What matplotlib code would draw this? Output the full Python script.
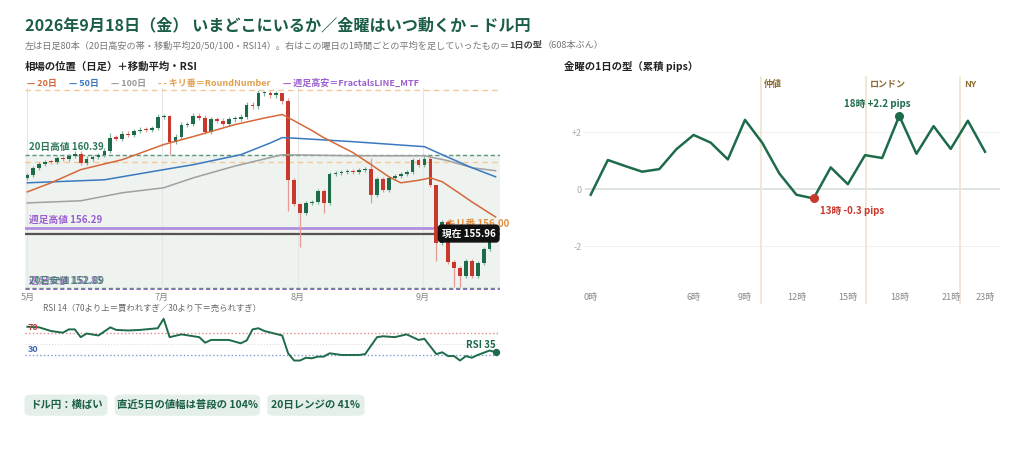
import numpy as np
import matplotlib.pyplot as plt
from matplotlib.patches import FancyBboxPatch

plt.rcParams['font.family'] = ['Noto Sans CJK JP', 'DejaVu Sans']

# ---- data: daily closes (80 bars)
closes = [159.26, 159.66, 159.88, 159.99, 159.96, 160.22, 160.17, 160.33, 160.45, 159.94,
          160.17, 160.28, 160.39, 160.62, 161.35, 161.30, 161.58, 161.52, 161.74, 161.80,
          161.78, 161.91, 162.53, 162.55, 161.12, 161.41, 162.08, 162.10, 162.59, 162.48,
          161.69, 162.37, 162.31, 162.14, 162.37, 162.42, 162.53, 163.21, 163.10, 163.83,
          163.85, 163.72, 163.83, 163.38, 158.98, 157.63, 157.12, 157.68, 157.74, 158.36,
          157.68, 159.32, 159.38, 159.43, 159.49, 159.43, 159.55, 159.60, 158.14, 159.04,
          158.42, 159.09, 159.21, 159.32, 159.43, 160.11, 159.83, 160.17, 158.70, 155.43,
          156.61, 154.36, 154.02, 153.57, 154.41, 153.57, 154.30, 155.09, 155.60, 155.96]
first_open = 159.10
wick_high = {14: 161.6, 24: 162.6, 39: 164.0, 43: 163.5, 44: 163.6, 46: 157.7, 58: 160.2, 68: 160.3, 69: 158.2}
wick_low = {24: 160.4, 44: 157.2, 46: 155.2, 50: 157.1, 58: 157.7, 69: 154.4, 72: 152.95, 73: 152.95}

ma20_idx = [0, 4, 9, 16, 23, 28, 35, 40, 43, 45, 48, 50, 55, 58, 61, 63, 66, 68, 70, 73, 75, 79]
ma20_val = [158.30, 158.81, 159.55, 160.11, 160.96, 161.41, 162.08, 162.45, 162.65, 162.30, 161.75,
            161.35, 160.50, 159.83, 159.15, 158.81, 158.95, 159.09, 158.87, 158.20, 157.74, 156.89]
ma50_idx = [0, 13, 23, 28, 36, 41, 43, 45, 55, 67, 70, 73, 75, 79]
ma50_val = [158.81, 158.98, 159.55, 159.83, 160.39, 161.05, 161.35, 161.32, 161.12, 160.84,
            160.39, 159.95, 159.66, 159.15]
ma100_idx = [0, 9, 16, 23, 28, 35, 43, 55, 67, 71, 75, 79]
ma100_val = [157.68, 157.80, 158.25, 158.53, 159.09, 159.75, 160.39, 160.33, 160.33, 160.05, 159.66, 159.49]

rsi_idx = [0, 2, 4, 6, 7, 8, 9, 10, 12, 14, 15, 17, 19, 20, 22, 23, 24, 26, 29, 30, 31, 34, 36, 37,
           38, 39, 40, 43, 44, 45, 46, 47, 48, 49, 50, 51, 53, 56, 57, 59, 60, 62, 64, 66, 67,
           69, 70, 71, 72, 73, 74, 75, 76, 78, 79]
rsi_val = [80.7, 79.6, 73, 70, 76, 76, 62, 68.5, 65, 79.6, 75, 74, 75, 76, 78, 95, 62, 67, 62, 52,
           57, 57, 51, 56, 76, 78, 73, 65, 33, 20, 20, 25, 24, 27, 27, 33, 30, 30, 31.6, 62, 63.6,
           62, 67, 57, 59, 31.6, 34.8, 28, 28, 20, 28, 25, 30, 38, 35]

high20, low20 = 160.39, 152.89
week_high, week_low = 156.29, 152.85
kiri = [164.0, 160.0, 156.0]
month_idx = [0, 22.7, 45.6, 66.7]
month_lbl = ['5月', '7月', '8月', '9月']

hours = list(range(24))
cum_pips = [-0.2, 1.02, 0.81, 0.61, 0.7, 1.4, 1.9, 1.63, 1.04, 2.43, 1.63, 0.55,
            -0.2, -0.33, 0.76, 0.17, 1.19, 1.09, 2.57, 1.24, 2.21, 1.41, 2.4, 1.31]
hour_ticks = [0, 6, 9, 12, 15, 18, 21, 23]
sessions = [(9.92, '仲値'), (16.06, 'ロンドン'), (21.56, 'NY')]

GREEN = '#1e6b4a'
RED = '#c8382c'
DARK = '#1b5e45'

fig = plt.figure(figsize=(10.24, 4.62), dpi=100)
fig.text(0.024, 0.945, '2026年9月18日（金） いまどこにいるか／金曜はいつ動くか – ドル円',
         fontsize=11.6, fontweight='bold', color=DARK, va='center')

renderer = fig.canvas.get_renderer()


def chain(pieces, x, y, fs):
    # lay text pieces side by side
    for t, w, c in pieces:
        tx = fig.text(x, y, t, fontsize=fs, color=c, fontweight=w, va='center')
        x += tx.get_window_extent(renderer).width / fig.bbox.width + 0.008 * (fs < 6.6 + 0.5 and w == 'legend')


chain([('左は日足80本（20日高安の帯・移動平均20/50/100・RSI14）。右はこの曜日の1時間ごとの平均を足していったもの＝', 'normal', '#777777'),
       ('1日の型', 'bold', '#444444'), ('（608本ぶん）', 'normal', '#777777')], 0.024, 0.902, 6.6)

fig.text(0.024, 0.855, '相場の位置（日足）＋移動平均・RSI', fontsize=7.5, fontweight='bold', color='#222222', va='center')
fig.text(0.551, 0.855, '金曜の1日の型（累積 pips）', fontsize=7.5, fontweight='bold', color='#222222', va='center')

# legend line
leg = [('— 20日', '#d4683a'), ('— 50日', '#3a78c0'), ('— 100日', '#999999'),
       ('- - キリ番＝RoundNumber', '#e0a050'), ('— 週足高安＝FractalsLINE_MTF', '#9b5fd0')]
lx = 0.026
for t, c in leg:
    tx = fig.text(lx, 0.82, t, fontsize=6.5, color=c, fontweight='bold', va='center')
    lx += tx.get_window_extent(renderer).width / fig.bbox.width + 0.012

# ---- price axes
ax = fig.add_axes([0.0244, 0.372, 0.4636, 0.438])
n = len(closes)
ax.axhspan(low20, high20, color='#eef3f0', zorder=0)
for k in kiri:
    ax.axhline(k, color='#f2c99a', ls=(0, (4, 3)), lw=1, zorder=1)
for m in month_idx:
    ax.axvline(m, color='#e6e6e6', lw=0.8, zorder=0)
ax.axhline(high20, color='#5a9a78', ls=(0, (3, 2)), lw=1, zorder=1)
ax.axhline(low20, color='#5a9a78', ls=(0, (3, 2)), lw=1, zorder=1)
ax.axhline(week_low, color='#9b5fd0', ls=(0, (3, 2)), lw=1, zorder=1)
ax.axhline(week_high, color='#b08ee0', lw=2, zorder=1)
ax.axhline(closes[-1], color='#555555', lw=1.6, zorder=1)

opens = [first_open] + closes[:-1]
for i in range(n):
    o, c = opens[i], closes[i]
    col = GREEN if c >= o else RED
    hi = wick_high.get(i, max(o, c) + 0.12)
    lo = wick_low.get(i, min(o, c) - 0.12)
    wcol = '#7fb39a' if c >= o else '#e59a94'
    ax.vlines(i, lo, hi, color=wcol, lw=0.9, zorder=2)
    ax.bar(i, max(abs(c - o), 0.06), bottom=min(o, c), width=0.62, color=col, zorder=3)

ax.plot(ma100_idx, ma100_val, color='#a0a0a0', lw=1.1, zorder=4)
ax.plot(ma50_idx, ma50_val, color='#3a78c0', lw=1.1, zorder=4)
ax.plot(ma20_idx, ma20_val, color='#d4683a', lw=1.1, zorder=4)

ax.text(0.2, high20 + 0.15, '20日高値 160.39', fontsize=7, color='#2e7a58', fontweight='bold', va='bottom')
ax.text(0.2, week_high + 0.15, '週足高値 156.29', fontsize=7, color='#9b5fd0', fontweight='bold', va='bottom')
ax.text(0.2, low20 + 0.12, '週足安値 152.85', fontsize=7, color='#9b5fd0', fontweight='bold', va='bottom', alpha=0.8)
ax.text(0.2, low20 + 0.12, '20日安値 152.89', fontsize=7, color='#2e7a58', fontweight='bold', va='bottom', alpha=0.8)
ax.text(70.6, 156.2, 'キリ番 156.00', fontsize=7, color='#e09040', fontweight='bold', va='bottom', zorder=5)
ax.text(79, closes[-1], '現在 155.96', fontsize=7, color='white', fontweight='bold', ha='right', va='center',
        bbox=dict(boxstyle='round,pad=0.35', fc='#111111', ec='#111111'), zorder=6)

ax.set_xlim(-0.4, n - 0.3)
ax.set_ylim(152.78, 164.15)
ax.set_xticks(month_idx)
ax.set_xticklabels(month_lbl, fontsize=6.5, color='#888888')
ax.tick_params(axis='x', length=0, pad=2)
ax.set_yticks([])
for s in ax.spines.values():
    s.set_visible(False)

# ---- RSI
fig.text(0.042, 0.333, 'RSI 14（70より上＝買われすぎ／30より下＝売られすぎ）', fontsize=6, color='#666666', va='center')
ar = fig.add_axes([0.0244, 0.21, 0.4636, 0.106])
ar.axhline(70, color='#e08a8a', ls=':', lw=1)
ar.axhline(50, color='#dddddd', ls=':', lw=0.8)
ar.axhline(30, color='#7a9ad0', ls=':', lw=1)
ar.plot(rsi_idx, rsi_val, color=GREEN, lw=1.4)
ar.scatter([rsi_idx[-1]], [rsi_val[-1]], color=GREEN, s=18, zorder=5)
ar.text(0.0, 72, '70', fontsize=6.5, color='#c04040', fontweight='bold', va='bottom')
ar.text(0.0, 32, '30', fontsize=6.5, color='#3a6ab0', fontweight='bold', va='bottom')
ar.text(79, 39, 'RSI 35', fontsize=7, color=GREEN, fontweight='bold', ha='right', va='bottom')
ar.set_xlim(-0.4, n - 0.3)
ar.set_ylim(12, 100)
ar.axis('off')

# ---- badges
badges = [('ドル円：横ばい', 0.024, 0.081), ('直近5日の値幅は普段の 104%', 0.112, 0.142),
          ('20日レンジの 41%', 0.261, 0.095)]
for t, xx, w in badges:
    fig.patches.append(FancyBboxPatch((xx, 0.1), w, 0.046, boxstyle='round,pad=0,rounding_size=0.008',
                                      transform=fig.transFigure, fc='#e3efe8', ec='none'))
    fig.text(xx + w / 2, 0.123, t, fontsize=7.5, color=DARK, fontweight='bold', ha='center', va='center')

# ---- right: cumulative pips by hour
ax2 = fig.add_axes([0.571, 0.372, 0.406, 0.461])
for v in [-2, 2]:
    ax2.axhline(v, color='#f0f0f0', lw=0.8, zorder=0)
ax2.axhline(0, color='#d5e0da', lw=1.2, zorder=0)
for h, lbl in sessions:
    ax2.axvline(h, color='#efe4cc', lw=1.2, zorder=0, ymin=-0.06, clip_on=False)
    ax2.text(h + 0.2, 3.68, lbl, fontsize=6.5, color='#8a6a30', fontweight='bold', va='center')
ax2.plot(hours, cum_pips, color=GREEN, lw=1.8, zorder=3)
ax2.scatter([18], [cum_pips[18]], color=GREEN, s=30, zorder=4)
ax2.scatter([13], [cum_pips[13]], color=RED, s=30, zorder=4)
ax2.text(16.7, 2.98, '18時 +2.2 pips', fontsize=7, color=GREEN, fontweight='bold', ha='center', va='center')
ax2.text(13.4, -0.77, '13時 -0.3 pips', fontsize=7, color=RED, fontweight='bold', ha='left', va='center')
ax2.set_xlim(-0.35, 23.9)
ax2.set_ylim(-3.55, 3.93)
ax2.set_yticks([-2, 0, 2])
ax2.set_yticklabels(['-2', '0', '+2'], fontsize=6.5, color='#aaaaaa')
ax2.set_xticks(hour_ticks)
ax2.set_xticklabels([f'{h}時' for h in hour_ticks], fontsize=6.5, color='#888888')
ax2.tick_params(length=0, pad=2)
for s in ax2.spines.values():
    s.set_visible(False)

fig.savefig('out.png', dpi=100)
